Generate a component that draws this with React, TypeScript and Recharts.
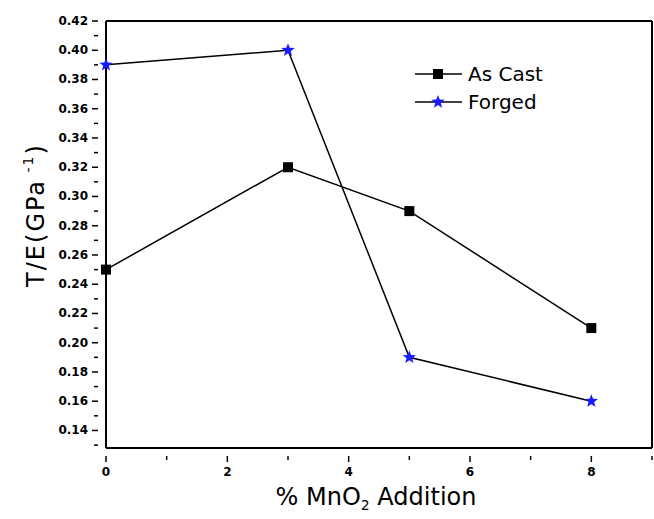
import React from 'react';
import { LineChart, Line, XAxis, YAxis, ReferenceLine, Customized } from 'recharts';

const additions = [0, 3, 5, 8];
const asCast = [0.25, 0.32, 0.29, 0.21];
const forged = [0.39, 0.40, 0.19, 0.16];
const xTicks = [0, 1, 2, 3, 4, 5, 6, 7, 8, 9];
const xLabels = [0, 2, 4, 6, 8];
const yTicks = [0.13, 0.14, 0.15, 0.16, 0.17, 0.18, 0.19, 0.2, 0.21, 0.22, 0.23, 0.24, 0.25, 0.26, 0.27, 0.28, 0.29, 0.3, 0.31, 0.32, 0.33, 0.34, 0.35, 0.36, 0.37, 0.38, 0.39, 0.4, 0.41, 0.42];
const yLabels = ['0.14', '0.16', '0.18', '0.20', '0.22', '0.24', '0.26', '0.28', '0.30', '0.32', '0.34', '0.36', '0.38', '0.40', '0.42'];

const data = additions.map((x, i) => ({ x, asCast: asCast[i], forged: forged[i] }));

const FONT = '"DejaVu Sans", sans-serif';

const XTick = (props: any) => {
  const { x, y, payload } = props;
  const v = payload.value;
  const major = xLabels.includes(v);
  return (
    <g>
      <line x1={x} x2={x} y1={y} y2={y + (major ? 6 : 4)} stroke="#000" strokeWidth={1.5} />
      {major && (
        <text x={x} y={y + 20} textAnchor="middle" fontFamily={FONT} fontWeight="bold" fontSize={12} fill="#000">
          {v}
        </text>
      )}
    </g>
  );
};

const YTick = (props: any) => {
  const { x, y, payload } = props;
  const label = payload.value.toFixed(2);
  const major = yLabels.includes(label);
  return (
    <g>
      <line x1={x} x2={x - (major ? 6 : 4)} y1={y} y2={y} stroke="#000" strokeWidth={1.5} />
      {major && (
        <text x={x - 10} y={y + 4} textAnchor="end" fontFamily={FONT} fontWeight="bold" fontSize={12} fill="#000">
          {label}
        </text>
      )}
    </g>
  );
};

const SquareDot = (props: any) => {
  const { cx, cy } = props;
  return <rect x={cx - 5} y={cy - 5} width={10} height={10} fill="#000" />;
};

const starPoints = (cx: number, cy: number, r: number) => {
  const pts: string[] = [];
  for (let i = 0; i < 10; i++) {
    const rr = i % 2 === 0 ? r : r * 0.42;
    const a = -Math.PI / 2 + (i * Math.PI) / 5;
    pts.push(`${cx + rr * Math.cos(a)},${cy + rr * Math.sin(a)}`);
  }
  return pts.join(' ');
};

const StarDot = (props: any) => {
  const { cx, cy } = props;
  return <polygon points={starPoints(cx, cy, 7)} fill="#1a1aff" />;
};

const Legend = () => (
  <g>
    <line x1={415} x2={462} y1={74} y2={74} stroke="#000" strokeWidth={1.5} />
    <rect x={433} y={69} width={10} height={10} fill="#000" />
    <text x={468} y={81} fontFamily={FONT} fontSize={20} fill="#000">As Cast</text>
    <line x1={415} x2={462} y1={102} y2={102} stroke="#000" strokeWidth={1.5} />
    <polygon points={starPoints(438, 102, 7)} fill="#1a1aff" />
    <text x={468} y={109} fontFamily={FONT} fontSize={20} fill="#000">Forged</text>
  </g>
);

const Titles = () => (
  <g>
    <text x={376} y={505} textAnchor="middle" fontFamily={FONT} fontSize={24} fill="#000">
      % MnO<tspan fontSize={14} dy={5}>2</tspan><tspan dy={-5}> Addition</tspan>
    </text>
    <text transform="translate(44,215) rotate(-90)" textAnchor="middle" fontFamily={FONT} fontSize={24} letterSpacing={2} fill="#000">
      T/E(GPa<tspan fontSize={14} dy={-11}> -1</tspan><tspan dy={11}>)</tspan>
    </text>
  </g>
);

export default function App() {
  return (
    <div style={{ position: 'absolute', left: 0, top: 0, background: '#fff' }}>
      <LineChart width={654} height={519} data={data} margin={{ top: 21, right: 2, left: 0, bottom: 0 }}>
        <XAxis
          dataKey="x"
          type="number"
          domain={[0, 9]}
          ticks={xTicks}
          interval={0}
          height={71}
          tick={<XTick />}
          tickLine={false}
          axisLine={{ stroke: '#000', strokeWidth: 2 }}
        />
        <YAxis
          type="number"
          domain={[0.128, 0.42]}
          ticks={yTicks}
          interval={0}
          width={106}
          tick={<YTick />}
          tickLine={false}
          axisLine={{ stroke: '#000', strokeWidth: 2 }}
          allowDataOverflow
        />
        <ReferenceLine y={0.42} stroke="#000" strokeWidth={2} />
        <ReferenceLine x={9} stroke="#000" strokeWidth={2} />
        <Line dataKey="asCast" stroke="#000" strokeWidth={1.5} dot={<SquareDot />} isAnimationActive={false} />
        <Line dataKey="forged" stroke="#000" strokeWidth={1.5} dot={<StarDot />} isAnimationActive={false} />
        <Customized component={Legend} />
        <Customized component={Titles} />
      </LineChart>
    </div>
  );
}
